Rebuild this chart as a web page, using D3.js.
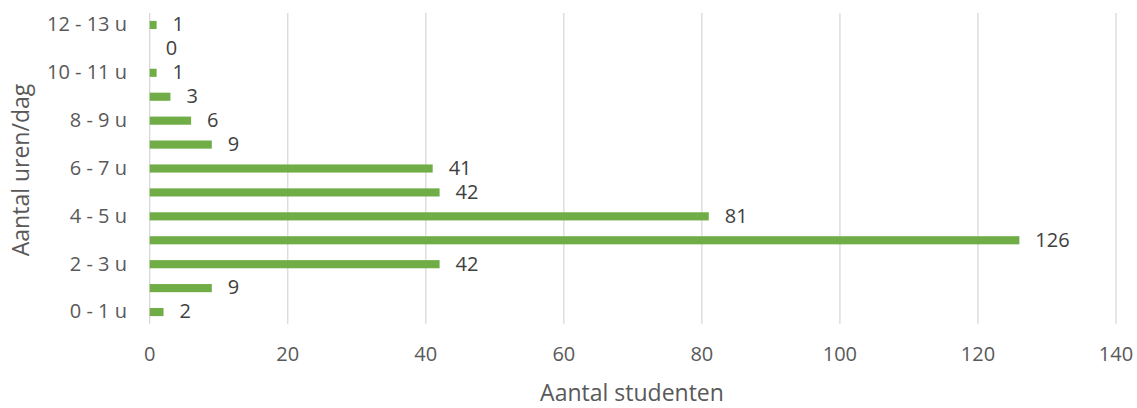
<!DOCTYPE html>
<html><head><meta charset="utf-8">
<script src="https://cdn.jsdelivr.net/npm/d3@7"></script>
<style>body{margin:0;background:#fff}svg{display:block}text{font-family:"Open Sans",sans-serif}</style>
</head><body><svg id="c" width="1137" height="408"></svg>
<script>
const categories = ["0 - 1 u","1 - 2 u","2 - 3 u","3 - 4 u","4 - 5 u","5 - 6 u","6 - 7 u","7 - 8 u","8 - 9 u","9 - 10 u","10 - 11 u","11 - 12 u","12 - 13 u"];
const values = [2, 9, 42, 126, 81, 42, 41, 9, 6, 3, 1, 0, 1];
const xTicks = [0, 20, 40, 60, 80, 100, 120, 140];
const xTitle = "Aantal studenten";
const yTitle = "Aantal uren/dag";

const svg = d3.select("#c");
const L = 149.7, R = 1116, T = 13, B = 324;
const x = d3.scaleLinear().domain([0, 140]).range([L, R]);
const y = d3.scaleBand().domain(categories).range([B, T]).paddingInner(0.66).paddingOuter(0.33);

svg.append("g").selectAll("line").data(xTicks).join("line")
  .attr("x1", d => x(d)).attr("x2", d => x(d)).attr("y1", T).attr("y2", B)
  .attr("stroke", "#d9d9d9").attr("stroke-width", 1.3);

svg.append("g").selectAll("rect").data(values).join("rect")
  .attr("x", x(0)).attr("y", (d,i) => y(categories[i]))
  .attr("width", d => x(d) - x(0)).attr("height", y.bandwidth())
  .attr("fill", "#70ad47");

svg.append("g").selectAll("text").data(values).join("text")
  .attr("x", d => x(d) + 16).attr("y", (d,i) => y(categories[i]) + y.bandwidth()/2 + 1)
  .attr("dominant-baseline", "middle").attr("font-size", 20).attr("fill", "#404040")
  .text(d => d);

svg.append("g").selectAll("text").data(categories.filter((c,i) => i % 2 === 0)).join("text")
  .attr("x", 127).attr("y", d => y(d) + y.bandwidth()/2 + 1)
  .attr("text-anchor", "end").attr("dominant-baseline", "middle")
  .attr("font-size", 20).attr("fill", "#595959").text(d => d);

svg.append("g").selectAll("text").data(xTicks).join("text")
  .attr("x", d => x(d)).attr("y", 356).attr("text-anchor", "middle").attr("dominant-baseline", "middle")
  .attr("font-size", 20).attr("fill", "#595959").text(d => d);

svg.append("text").attr("x", 632).attr("y", 395).attr("text-anchor", "middle").attr("dominant-baseline", "middle")
  .attr("font-size", 23).attr("fill", "#595959").text(xTitle);

svg.append("text").attr("transform", `translate(23, 170) rotate(-90)`)
  .attr("text-anchor", "middle").attr("dominant-baseline", "middle")
  .attr("font-size", 23).attr("fill", "#595959").text(yTitle);
</script></body></html>
